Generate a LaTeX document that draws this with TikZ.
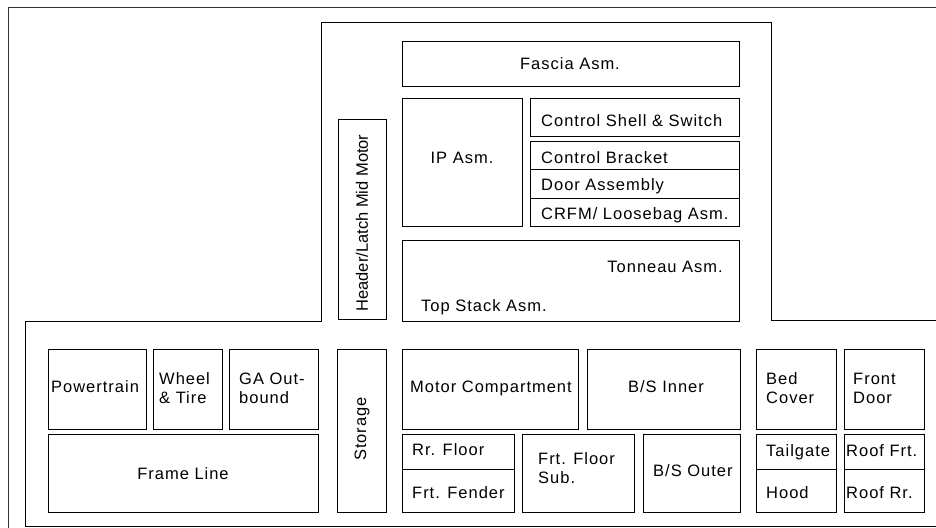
\documentclass[tikz,border=0pt]{standalone}
\usepackage{fontspec}
\setmainfont{Liberation Sans}[LetterSpace=6]
\newfontfamily\plainsans{Liberation Sans}
\begin{document}
\begin{tikzpicture}[x=1pt,y=-1pt,
  box/.style={draw=black,line width=1pt},
  frame/.style={draw=black!80,line width=1pt},
  lbl/.style={inner sep=0pt,font=\fontsize{16.5}{19}\selectfont},
  lw/.style={lbl,anchor=base west},
  lc/.style={lbl,anchor=base},
  le/.style={lbl,anchor=base east},
  two/.style={lbl,anchor=base west,align=left}]
\useasboundingbox (0,0) rectangle (936,527);
\clip (0,0) rectangle (936,527);
\fill[white] (0,0) rectangle (936,527);
% outer frame
\draw[frame] (8,560) -- (8,8) -- (960,8);
% inner cross-shaped outline
\draw[box] (25,526) -- (25,321) -- (321,321) -- (321,23) -- (771,23) -- (771,320) -- (960,320) -- (960,526) -- cycle;
% upper block
\draw[box] (338,119) rectangle (386,319);
\node[lbl,font=\plainsans\fontsize{16.5}{19}\selectfont,rotate=90,anchor=center] (hdr) at (362,223) {Header/Latch Mid Motor};
\draw[box] (402,42) rectangle (739,86);
\node[lc] (fascia) at (570,69) {Fascia Asm.};
\draw[box] (402,98) rectangle (522,226);
\node[lc] (ip) at (462,163) {IP Asm.};
\draw[box] (530,98) rectangle (739,136);
\node[lw] (shell) at (541,126) {Control Shell \& Switch};
\draw[box] (530,141) rectangle (739,226);
\draw[box] (530,169) -- (739,169);
\draw[box] (530,198) -- (739,198);
\node[lw] (bracket) at (541,163) {Control Bracket};
\node[lw] (door) at (541,190) {Door Assembly};
\node[lw] (crfm) at (541,219) {CRFM/ Loosebag Asm.};
\draw[box] (402,240) rectangle (739,321);
\node[le] (tonneau) at (723,272) {Tonneau Asm.};
\node[lw] (topstack) at (421,311) {Top Stack Asm.};
% lower left
\draw[box] (48,349) rectangle (146,429);
\node[lw] (power) at (51,392) {Powertrain};
\draw[box] (153,349) rectangle (222,429);
\node[two] (wheel) at (159,403) {Wheel\\\& Tire};
\draw[box] (229,349) rectangle (318,429);
\node[two] (ga) at (239,403) {GA Out-\\bound};
\draw[box] (48,434) rectangle (318,512);
\node[lc] (frame) at (183,479) {Frame Line};
% storage
\draw[box] (337,349) rectangle (386,512);
\node[lbl,rotate=90,anchor=center] (storage) at (362,429) {Storage};
% middle lower
\draw[box] (402,349) rectangle (578,429);
\node[lw] (motor) at (410,392) {Motor Compartment};
\draw[box] (587,349) rectangle (740,429);
\node[lc] (bsin) at (666,392) {B/S Inner};
\draw[box] (402,434) rectangle (514,512);
\draw[box] (402,469) -- (514,469);
\node[lw] (rrfloor) at (412,455) {Rr. Floor};
\node[lw] (fender) at (412,498) {Frt. Fender};
\draw[box] (522,434) rectangle (634,512);
\node[two] (ffloor) at (538,483) {Frt. Floor\\Sub.};
\draw[box] (643,434) rectangle (740,512);
\node[lw] (bsout) at (653,476) {B/S Outer};
% right lower
\draw[box] (756,349) rectangle (836,429);
\node[two] (bed) at (766,403) {Bed\\Cover};
\draw[box] (844,349) rectangle (924,429);
\node[two] (front) at (853,403) {Front\\Door};
\draw[box] (756,434) rectangle (836,512);
\draw[box] (756,469) -- (836,469);
\node[lw] (tail) at (766,456) {Tailgate};
\node[lw] (hood) at (766,498) {Hood};
\draw[box] (844,434) rectangle (924,512);
\draw[box] (844,469) -- (924,469);
\node[lw] (rooff) at (846,456) {Roof Frt.};
\node[lw] (roofr) at (846,498) {Roof Rr.};
\end{tikzpicture}
\end{document}
